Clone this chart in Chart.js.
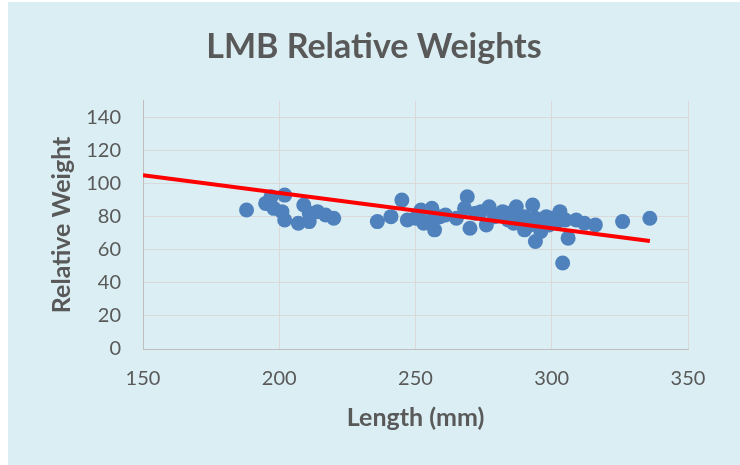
<!DOCTYPE html>
<html>
<head>
<meta charset="utf-8">
<script src="https://cdn.jsdelivr.net/npm/chart.js@4"></script>
<style>
    html, body { margin: 0; padding: 0; background: #ffffff; }
    #wrap {
        position: absolute;
        left: 8px;
        top: 2px;
        width: 732px;
        height: 463px;
        background: #daeef3;
    }
</style>
</head>
<body>
<div id="wrap"><canvas id="weightChart"></canvas></div>
<script>
// Fish length (mm) and relative weight
const lengths = [188, 195, 197, 198, 202, 201, 202, 207, 209, 211, 211, 214, 217, 220,
    236, 241, 245, 247, 250, 252, 253, 256, 257, 256, 259, 261, 265, 269, 268, 270, 272,
    274, 276, 277, 279, 280, 282, 284, 284, 287, 287, 286, 290, 290, 290, 292, 293, 294,
    294, 295, 296, 298, 299, 300, 302, 303, 305, 306, 304, 309, 312, 316, 326, 336];
const weights = [84, 88, 92, 85, 93, 83, 78, 76, 87, 77, 82, 83, 81, 79,
    77, 80, 90, 78, 79, 84, 76, 85, 72, 78, 80, 81, 79, 92, 85, 73, 82,
    83, 75, 86, 80, 81, 83, 82, 78, 86, 78, 76, 72, 80, 74, 75, 87, 79,
    65, 77, 71, 80, 75, 79, 77, 83, 78, 67, 52, 78, 76, 75, 77, 79];

// Linear trend end points
const trendX = [150, 336];
const trendY = [105, 65.3];

const xTicks = [150, 200, 250, 300, 350];
const yTicks = [0, 20, 40, 60, 80, 100, 120, 140];

const textColor = '#595959';
const fontFamily = 'Lato, "Open Sans", sans-serif';

const points = lengths.map((x, i) => ({ x: x, y: weights[i] }));
const trend = trendX.map((x, i) => ({ x: x, y: trendY[i] }));

new Chart(document.getElementById('weightChart'), {
    type: 'scatter',
    data: {
        datasets: [{
            type: 'line',
            data: trend,
            borderColor: '#ff0000',
            borderWidth: 4,
            pointRadius: 0,
            fill: false,
            order: 0
        }, {
            data: points,
            backgroundColor: '#4f81bd',
            borderWidth: 0,
            pointRadius: 7.5,
            pointHoverRadius: 7.5,
            order: 1
        }]
    },
    options: {
        responsive: true,
        maintainAspectRatio: false,
        animation: false,
        events: [],
        layout: {
            padding: 0
        },
        plugins: {
            legend: { display: false },
            tooltip: { enabled: false },
            title: {
                display: true,
                text: 'LMB Relative Weights',
                color: textColor,
                font: { family: fontFamily, size: 34, weight: 'bold' },
                padding: { top: 25, bottom: 33 }
            }
        },
        scales: {
            x: {
                type: 'linear',
                min: 150,
                max: 350,
                afterBuildTicks: function(scale) {
                    scale.ticks = xTicks.map(v => ({ value: v }));
                },
                afterFit: function(scale) {
                    scale.height = 116;
                },
                grid: {
                    color: '#d9d9d9',
                    drawTicks: false
                },
                border: { color: '#bfbfbf' },
                ticks: {
                    color: textColor,
                    padding: 18,
                    font: { family: fontFamily, size: 20 }
                },
                title: {
                    display: true,
                    text: 'Length (mm)',
                    color: textColor,
                    font: { family: fontFamily, size: 25, weight: 'bold' },
                    padding: { top: 0, bottom: 32 }
                }
            },
            y: {
                min: 0,
                max: 150,
                afterBuildTicks: function(scale) {
                    scale.ticks = yTicks.map(v => ({ value: v }));
                },
                afterFit: function(scale) {
                    scale.width = 135;
                },
                grid: {
                    color: '#d9d9d9',
                    drawTicks: false
                },
                border: { color: '#bfbfbf' },
                ticks: {
                    color: textColor,
                    padding: 22,
                    font: { family: fontFamily, size: 20 }
                },
                title: {
                    display: true,
                    text: 'Relative Weight',
                    color: textColor,
                    font: { family: fontFamily, size: 25, weight: 'bold' },
                    padding: { top: 39, bottom: 0 }
                }
            },
            // empty right-hand strip so the title stays centred on the canvas
            yRight: {
                position: 'right',
                min: 0,
                max: 150,
                afterFit: function(scale) {
                    scale.width = 52;
                },
                grid: { display: false },
                border: { display: false },
                ticks: { display: false }
            }
        }
    }
});
</script>
</body>
</html>
